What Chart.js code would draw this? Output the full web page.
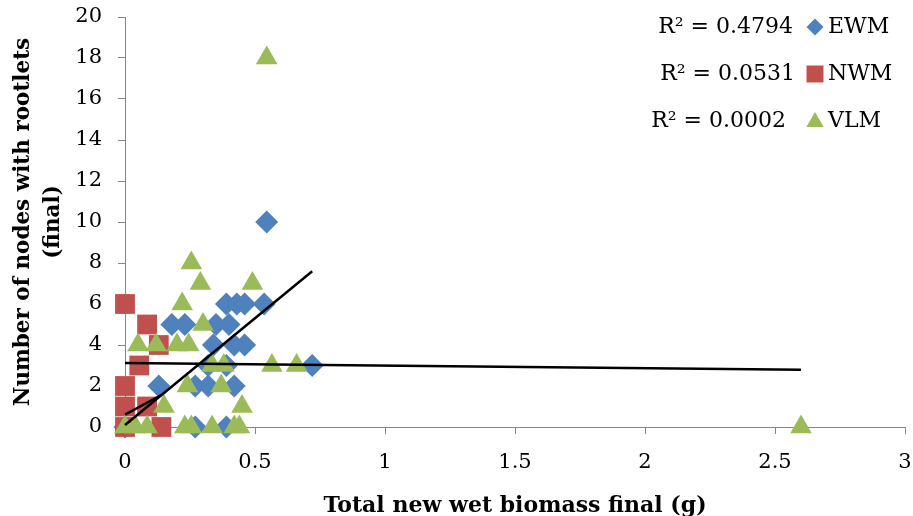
<!DOCTYPE html>
<html>
<head>
<meta charset="utf-8">
<script src="https://cdn.jsdelivr.net/npm/chart.js@4.4.1/dist/chart.umd.min.js"></script>
<style>
  body { margin: 0; background: #fff; }
</style>
</head>
<body>
<canvas id="grafico" width="913" height="516"></canvas>
<script>
// values
let seriesNames = ['EWM', 'NWM', 'VLM'];
let r2Labels = ['R\u00B2 = 0.4794', 'R\u00B2 = 0.0531', 'R\u00B2 = 0.0002'];

let ewmX = [0, 0.13, 0.27, 0.39, 0.27, 0.32, 0.42, 0.32, 0.39, 0.72, 0.34, 0.42, 0.46, 0.18, 0.23, 0.35, 0.40, 0.39, 0.43, 0.46, 0.535, 0.545];
let ewmY = [0, 2, 0, 0, 2, 2, 2, 3, 3, 3, 4, 4, 4, 5, 5, 5, 5, 6, 6, 6, 6, 10];

let nwmX = [0, 0.085, 0.13, 0.055, 0, 0, 0.085, 0, 0.14];
let nwmY = [6, 5, 4, 3, 2, 1, 1, 0, 0];

let vlmX = [0.545, 0.255, 0.29, 0.49, 0.22, 0.30, 0.05, 0.12, 0.20, 0.245, 0.335, 0.38, 0.565, 0.66, 0.24, 0.37, 0.15, 0.45, 0, 0.04, 0.085, 0.23, 0.255, 0.335, 0.42, 0.44, 2.6];
let vlmY = [18, 8, 7, 7, 6, 5, 4, 4, 4, 4, 3, 3, 3, 3, 2, 2, 1, 1, 0, 0, 0, 0, 0, 0, 0, 0, 0];

// linear trendline end points
let ewmFitX = [0, 0.72];
let ewmFitY = [0.1, 7.6];
let nwmFitX = [0, 0.14];
let nwmFitY = [0.6, 1.56];
let vlmFitX = [0, 2.6];
let vlmFitY = [3.12, 2.79];

let xTicks = [0, 0.5, 1, 1.5, 2, 2.5, 3];
let yTicks = [0, 2, 4, 6, 8, 10, 12, 14, 16, 18, 20];

let cores = ['#4F81BD', '#C0504D', '#9BBB59'];
let estilos = ['rectRot', 'rect', 'triangle'];

function pares(xs, ys) {
  return xs.map((x, i) => ({ x: x, y: ys[i] }));
}

function linha(xs, ys) {
  return {
    type: 'line',
    data: pares(xs, ys),
    borderColor: '#000',
    borderWidth: 2.5,
    pointRadius: 0,
    fill: false,
    order: 0,
    clip: false
  };
}

// legend with the R² texts, drawn at the top right
let legenda = {
  id: 'legenda',
  afterDraw(chart) {
    let ctx = chart.ctx;
    let rowsY = [27, 74, 121];
    let r2Right = [793, 795, 786];
    let sizes = [8.5, 12, 10];
    ctx.save();
    ctx.font = '22px "DejaVu Serif"';
    ctx.textBaseline = 'middle';
    for (let i = 0; i < 3; i++) {
      ctx.fillStyle = '#000';
      ctx.textAlign = 'right';
      ctx.fillText(r2Labels[i], r2Right[i], rowsY[i]);
      ctx.textAlign = 'left';
      ctx.fillText(seriesNames[i], 828, rowsY[i]);
      ctx.fillStyle = cores[i];
      Chart.helpers.drawPoint(ctx, { pointStyle: estilos[i], radius: sizes[i], rotation: 0, borderWidth: 0 }, 815, rowsY[i] + (i == 2 ? 1 : 0));
    }
    ctx.restore();
  }
};

let ctx = document.getElementById('grafico');

let chartgraph = new Chart(ctx, {
  type: 'scatter',
  data: {
    datasets: [
      linha(ewmFitX, ewmFitY),
      linha(nwmFitX, nwmFitY),
      linha(vlmFitX, vlmFitY),
      {
        label: seriesNames[2],
        data: pares(vlmX, vlmY),
        pointStyle: 'triangle',
        pointRadius: 12.5,
        backgroundColor: cores[2],
        borderWidth: 0,
        order: 1,
        clip: false
      },
      {
        label: seriesNames[1],
        data: pares(nwmX, nwmY),
        pointStyle: 'rect',
        pointRadius: 14,
        backgroundColor: cores[1],
        borderWidth: 0,
        order: 2,
        clip: false
      },
      {
        label: seriesNames[0],
        data: pares(ewmX, ewmY),
        pointStyle: 'rectRot',
        pointRadius: 11.5,
        backgroundColor: cores[0],
        borderWidth: 0,
        order: 3,
        clip: false
      }
    ]
  },
  options: {
    responsive: false,
    animation: false,
    layout: { autoPadding: false, padding: { top: 17, right: 8, left: 0, bottom: 0 } },
    plugins: {
      legend: { display: false },
      tooltip: { enabled: false }
    },
    scales: {
      x: {
        type: 'linear',
        min: 0,
        max: 3,
        afterBuildTicks: (s) => { s.ticks = xTicks.map(v => ({ value: v })); },
        afterFit: (s) => { s.height = 89; s.paddingLeft = 0; s.paddingRight = 0; },
        grid: { drawOnChartArea: false, drawTicks: true, tickLength: 7, color: '#868686' },
        border: { color: '#868686', width: 1 },
        ticks: {
          color: '#000',
          padding: 16,
          maxRotation: 0,
          font: { family: 'DejaVu Serif', size: 21 },
          callback: (v) => String(v)
        },
        title: {
          display: true,
          text: 'Total new wet biomass final (g)',
          color: '#000',
          padding: { top: 0, bottom: -3 },
          font: { family: 'DejaVu Serif', size: 22, weight: 'bold' }
        }
      },
      y: {
        min: 0,
        max: 20,
        afterBuildTicks: (s) => { s.ticks = yTicks.map(v => ({ value: v })); },
        afterFit: (s) => { s.width = 125; s.paddingTop = 0; s.paddingBottom = 0; },
        grid: { drawOnChartArea: false, drawTicks: true, tickLength: 7, color: '#868686' },
        border: { color: '#868686', width: 1 },
        ticks: { color: '#000', padding: 16, font: { family: 'DejaVu Serif', size: 21 } },
        title: {
          display: true,
          text: ['Number of nodes with rootlets', '(final)'],
          color: '#000',
          padding: { top: 8, bottom: 0 },
          font: { family: 'DejaVu Serif', size: 21.5, weight: 'bold', lineHeight: 1.4 }
        }
      }
    }
  },
  plugins: [legenda]
});
</script>
</body>
</html>
